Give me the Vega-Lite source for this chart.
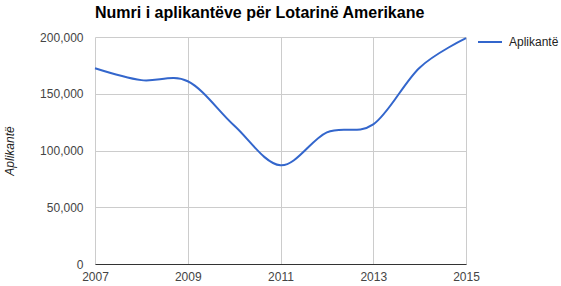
{
  "$schema": "https://vega.github.io/schema/vega-lite/v6.json",
  "width": 371,
  "height": 227,
  "autosize": {"type": "none"},
  "padding": {"left": 95, "top": 37, "right": 95, "bottom": 22},
  "background": "white",
  "config": {
    "font": "Liberation Sans",
    "view": {"stroke": null}
  },
  "title": {
    "text": "Numri i aplikantëve për Lotarinë Amerikane",
    "anchor": "start",
    "frame": "group",
    "fontSize": 16,
    "fontWeight": "bold",
    "color": "#000000",
    "font": "Liberation Sans",
    "baseline": "alphabetic",
    "offset": 10,
    "dy": 15
  },
  "data": {
    "values": [
      {"year": 2007, "value": 172500, "series": "Aplikantë"},
      {"year": 2008, "value": 162000, "series": "Aplikantë"},
      {"year": 2009, "value": 161000, "series": "Aplikantë"},
      {"year": 2010, "value": 122000, "series": "Aplikantë"},
      {"year": 2011, "value": 87000, "series": "Aplikantë"},
      {"year": 2012, "value": 116000, "series": "Aplikantë"},
      {"year": 2013, "value": 123000, "series": "Aplikantë"},
      {"year": 2014, "value": 173000, "series": "Aplikantë"},
      {"year": 2015, "value": 199000, "series": "Aplikantë"}
    ]
  },
  "mark": {"type": "line", "interpolate": "cardinal", "strokeWidth": 2},
  "encoding": {
    "x": {
      "field": "year",
      "type": "quantitative",
      "scale": {"domain": [2007, 2015], "nice": false, "zero": false},
      "axis": {
        "values": [2007, 2009, 2011, 2013, 2015],
        "format": "d",
        "title": null,
        "ticks": false,
        "labelPadding": 7,
        "labelFontSize": 12,
        "labelColor": "#444444",
        "labelFlush": false,
        "domain": true,
        "domainColor": "#333333",
        "domainWidth": 1,
        "grid": true,
        "gridColor": "#cccccc",
        "zindex": 0
      }
    },
    "y": {
      "field": "value",
      "type": "quantitative",
      "scale": {"domain": [0, 200000], "nice": false},
      "axis": {
        "values": [0, 50000, 100000, 150000, 200000],
        "format": ",d",
        "title": "Aplikantë",
        "titleFontStyle": "italic",
        "titleFontWeight": "normal",
        "titleFontSize": 12,
        "titleColor": "#222222",
        "titleAngle": -90,
        "titleX": -86,
        "titleY": 113.5,
        "titleAlign": "center",
        "titleBaseline": "middle",
        "ticks": false,
        "labelPadding": 12,
        "labelFontSize": 12,
        "labelColor": "#444444",
        "domain": false,
        "grid": true,
        "gridColor": "#cccccc"
      }
    },
    "color": {
      "field": "series",
      "type": "nominal",
      "scale": {"range": ["#3366cc"]},
      "legend": {
        "title": null,
        "orient": "none",
        "legendX": 382,
        "legendY": -8,
        "padding": 0,
        "symbolType": "stroke",
        "symbolSize": 576,
        "symbolStrokeWidth": 2,
        "labelOffset": 6,
        "labelFontSize": 12,
        "labelColor": "#222222"
      }
    }
  }
}
